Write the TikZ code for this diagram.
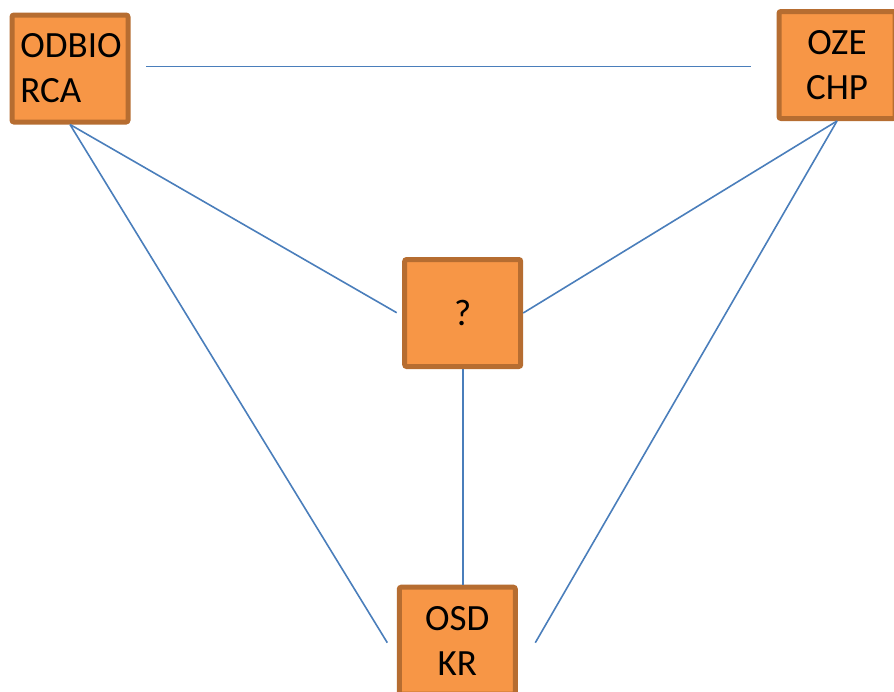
\documentclass[tikz,border=0pt]{standalone}
\usepackage{fontspec}
\setmainfont{Carlito}
\definecolor{boxfill}{HTML}{F79646}
\definecolor{boxline}{HTML}{B66D31}
\definecolor{conn}{HTML}{4A7EBB}
\begin{document}
\begin{tikzpicture}[x=1pt,y=-1pt,
  box/.style={draw=boxline,fill=boxfill,line width=5pt,rounded corners=2pt,
    minimum width=116pt,minimum height=107pt,inner sep=0pt,
    font=\fontsize{37}{45}\selectfont,align=center},
  conline/.style={draw=conn,line width=1.6pt}]
\useasboundingbox (0,0) rectangle (894,691);
\clip (0,0) rectangle (894,691);
\coordinate (topL) at (146,66.3);
\coordinate (topR) at (751.3,66.3);
\coordinate (qL) at (396.7,312.7);
\coordinate (osdL) at (387.3,642.7);
\coordinate (osdR) at (535.3,642.7);
\draw[conline] (topL) -- (topR);
\node[box,align=left] (odb) at (70,68.5) {\hspace*{2pt}ODBIO\\\hspace*{2pt}RCA};
\node[box] (oze) at (837,65) {\raisebox{-1.5pt}{OZE}\\\raisebox{-1.5pt}{CHP}};
\node[box] (q) at (462.7,313) {?};
\node[box] (osd) at (457.3,640.7) {\raisebox{-1.5pt}{OSD}\\\raisebox{-1.5pt}{KR}};
\draw[conline] (odb.south) -- (qL);
\draw[conline] (odb.south) -- (osdL);
\draw[conline] (oze.south) -- (q.east);
\draw[conline] (oze.south) -- (osdR);
\draw[conline] (q.south) -- (q.south |- osd.north);
\end{tikzpicture}
\end{document}
